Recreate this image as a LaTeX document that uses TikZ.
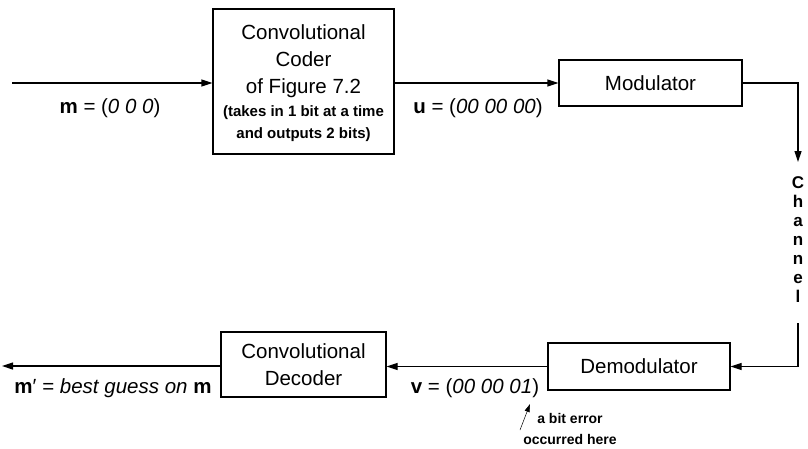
\documentclass[tikz,border=0pt]{standalone}
\usepackage{fontspec}
\setmainfont{Liberation Sans}
\usetikzlibrary{arrows.meta}

\newcommand{\bigfnt}{\fontsize{20.5}{27}\selectfont}
\newcommand{\smfnt}{\fontsize{15}{22}\selectfont\bfseries}

\begin{document}
\begin{tikzpicture}[x=1pt, y=-1pt, >={Triangle[length=11pt,width=7pt]}, line width=1.2pt,
  block/.style={draw, line width=1.2pt, inner sep=0pt, align=center, font=\bigfnt},
  lbl/.style={font=\bigfnt, inner sep=0pt}]
  \useasboundingbox (0,0) rectangle (808,448);
  % top row
  \node[block, minimum width=181pt, minimum height=145pt] (coder) at (303.5,81.5) {};
  \node[inner sep=0pt, align=center, font=\bigfnt] (codertxt) at (303.5,83.5)
    {Convolutional\\Coder\\of Figure 7.2\\[-4pt]{\smfnt (takes in 1 bit at a time}\\[-5pt]{\smfnt and outputs 2 bits)}};
  \node[block, minimum width=183pt, minimum height=46pt] (mod) at (650.5,83) {Modulator};
  \coordinate (in) at (12,83);
  \draw[->] (in) -- (in -| coder.west);
  \draw[->] (mod.west -| coder.east) -- (mod.west);
  \node[lbl] (mlbl) at (110,108) {\textbf{m} = (\textit{0 0 0})};
  \node[lbl] (ulbl) at (478,108) {\textbf{u} = (\textit{00 00 00})};
  % channel
  \coordinate (chtop) at (798,162);
  \coordinate (chbot) at (798,323);
  \draw[->] (mod.east) -- (mod.east -| chtop) -- (chtop);
  \node[inner sep=0pt, align=center, font=\fontsize{17}{19}\selectfont\bfseries] (chan) at (798,240)
    {C\\h\\a\\n\\n\\e\\l};
  % bottom row
  \node[block, minimum width=182pt, minimum height=47pt] (demod) at (639,366.5) {Demodulator};
  \node[block, minimum width=165pt, minimum height=65pt] (dec) at (303.5,364.5) {Convolutional\\Decoder};
  \coordinate (out) at (2,366);
  \draw[->] (chbot) -- (chbot |- demod.east) -- (demod.east);
  \draw[->] (demod.west) -- (demod.west -| dec.east);
  \draw[->] (out -| dec.west) -- (out);
  \node[lbl] (vlbl) at (475,388) {\textbf{v} = (\textit{00 00 01})};
  \node[lbl] (mplbl) at (113,388) {\textbf{m}′ = \textit{best guess on} \textbf{m}};
  % error note
  \coordinate (errtail) at (520,430);
  \coordinate (errhead) at (530,404);
  \draw[->, >={Triangle[length=8pt,width=5pt]}, line width=0.5pt] (errtail) -- (errhead);
  \node[inner sep=0pt, align=center, font=\fontsize{14}{21}\selectfont\bfseries] (note) at (570,429) {a bit error\\occurred here};
\end{tikzpicture}
\end{document}
